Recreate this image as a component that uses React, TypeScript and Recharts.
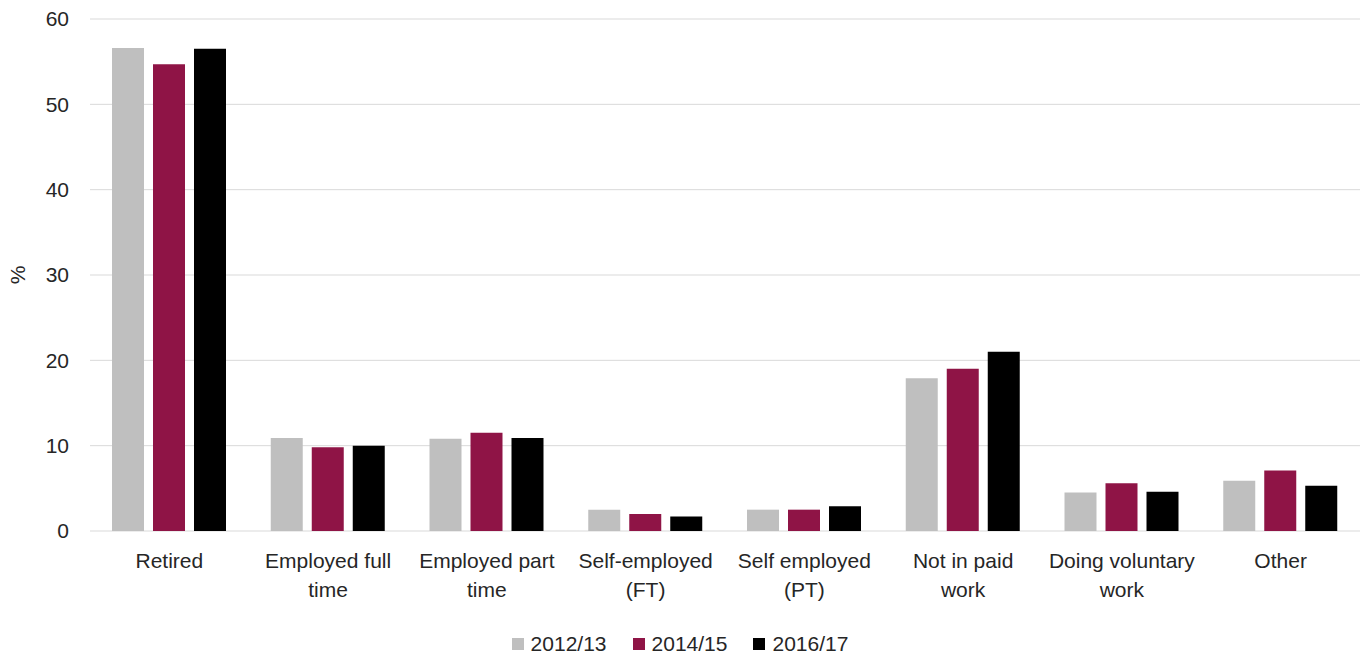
import React from "react";
import {
  BarChart, Bar, XAxis, YAxis, CartesianGrid, Legend, Label,
} from "recharts";

// ── Data ─────────────────────────────────────────────────────

const categories = [
  "Retired",
  "Employed full time",
  "Employed part time",
  "Self-employed (FT)",
  "Self employed (PT)",
  "Not in paid work",
  "Doing voluntary work",
  "Other",
];

// how each category label breaks over lines on the axis
const categoryLines: string[][] = [
  ["Retired"],
  ["Employed full", "time"],
  ["Employed part", "time"],
  ["Self-employed", "(FT)"],
  ["Self employed", "(PT)"],
  ["Not in paid", "work"],
  ["Doing voluntary", "work"],
  ["Other"],
];

const y2012 = [56.6, 10.9, 10.8, 2.5, 2.5, 17.9, 4.5, 5.9];
const y2014 = [54.7, 9.8, 11.5, 2.0, 2.5, 19.0, 5.6, 7.1];
const y2016 = [56.5, 10.0, 10.9, 1.7, 2.9, 21.0, 4.6, 5.3];

const yTicks = [0, 10, 20, 30, 40, 50, 60];

const seriesNames = ["2012/13", "2014/15", "2016/17"];
const seriesColors = ["#BFBFBF", "#8F1446", "#000000"];

const data = categories.map((c, i) => ({
  name: c,
  s2012: y2012[i],
  s2014: y2014[i],
  s2016: y2016[i],
}));

// ── Styles ───────────────────────────────────────────────────

const FONT = "'Liberation Sans', Arial, sans-serif";
const TEXT = "#262626";

// ── Axis tick with manual line breaks ────────────────────────

const CategoryTick = (props: any) => {
  const { x, y, index } = props;
  const lines = categoryLines[index] ?? [props.payload.value];
  return (
    <text x={x} y={y} textAnchor="middle" fontSize={21} fill={TEXT} fontFamily={FONT}>
      {lines.map((ln, i) => (
        <tspan key={i} x={x} dy={29}>{ln}</tspan>
      ))}
    </text>
  );
};

// ── Legend ───────────────────────────────────────────────────

const LegendContent = () => (
  <div style={{ display: "flex", justifyContent: "center", alignItems: "center", height: 26, gap: 26, fontFamily: FONT, fontSize: 21, color: TEXT }}>
    {seriesNames.map((n, i) => (
      <span key={n} style={{ display: "flex", alignItems: "center", gap: 7 }}>
        <span style={{ width: 12, height: 12, background: seriesColors[i], display: "inline-block" }} />
        {n}
      </span>
    ))}
  </div>
);

// ── Chart ────────────────────────────────────────────────────

export default function App() {
  return (
    <div style={{ position: "absolute", left: 0, top: 0, width: 1365, height: 657, background: "#fff" }}>
      <BarChart
        width={1365}
        height={657}
        data={data}
        margin={{ top: 19, right: 5, left: 0, bottom: 0 }}
        barSize={32}
        barGap={9}
      >
        <CartesianGrid vertical={false} stroke="#D9D9D9" strokeWidth={1} />
        <XAxis
          dataKey="name"
          axisLine={false}
          tickLine={false}
          interval={0}
          height={100}
          tick={<CategoryTick />}
        />
        <YAxis
          domain={[0, 60]}
          ticks={yTicks}
          width={90}
          axisLine={false}
          tickLine={false}
          tickSize={0}
          tickMargin={21}
          tick={{ fontSize: 21, fill: TEXT, fontFamily: FONT }}
        >
          <Label
            value="%"
            angle={-90}
            position="insideLeft"
            offset={18}
            style={{ fontSize: 21, fill: TEXT, fontFamily: FONT, textAnchor: "middle" }}
          />
        </YAxis>
        <Legend verticalAlign="bottom" height={26} content={<LegendContent />} />
        <Bar dataKey="s2012" name={seriesNames[0]} fill={seriesColors[0]} isAnimationActive={false} />
        <Bar dataKey="s2014" name={seriesNames[1]} fill={seriesColors[1]} isAnimationActive={false} />
        <Bar dataKey="s2016" name={seriesNames[2]} fill={seriesColors[2]} isAnimationActive={false} />
      </BarChart>
    </div>
  );
}
